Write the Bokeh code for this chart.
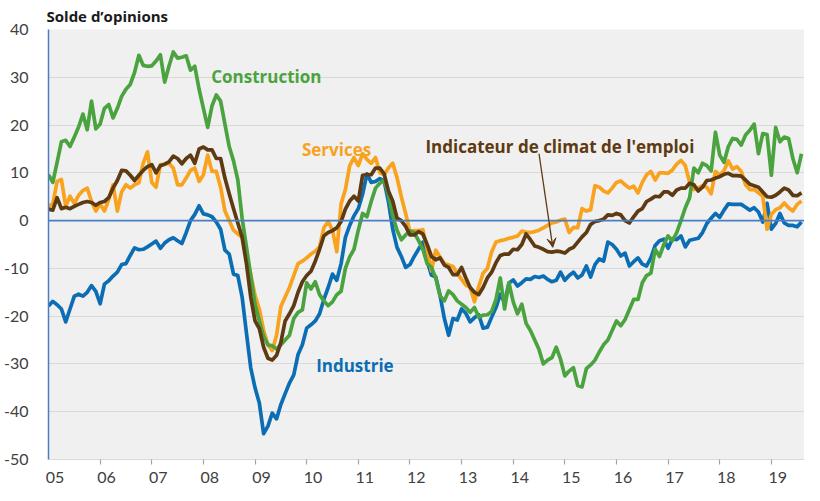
from bokeh.plotting import figure
from bokeh.models import Range1d, FixedTicker, Span, Arrow, VeeHead, CustomJSTickFormatter
from bokeh.core.properties import value
from bokeh.embed import file_html
from bokeh.resources import INLINE

# Monthly values, Jan 2005 .. Aug 2019 (solde d'opinions)
year_labels = ["05", "06", "07", "08", "09", "10", "11", "12", "13", "14", "15", "16", "17", "18", "19"]

industrie = [
    -17.9, -16.9, -17.6, -18.5, -21.2, -18.5, -15.8, -15.4, -15.8, -15.0, -13.6, -14.8,
    -17.4, -13.3, -12.6, -11.6, -10.8, -9.2, -9.0, -7.3, -5.7, -6.1, -6.0, -5.5,
    -4.9, -4.3, -5.8, -4.7, -4.0, -3.6, -4.2, -4.8, -2.5, 0.0, 1.3, 3.1,
    1.4, 1.2, 0.8, -0.3, -1.8, -6.2, -7.0, -11.2, -11.5, -16.0, -23.5, -30.8,
    -35.0, -38.2, -44.6, -43.0, -40.3, -41.5, -38.5, -36.2, -34.0, -32.3, -28.0, -26.0,
    -22.5, -21.8, -21.0, -19.5, -16.5, -14.0, -11.2, -12.5, -9.0, -3.5, -1.0, 1.0,
    2.5, 5.5, 9.8, 8.0, 8.2, 8.8, 8.3, 4.0, -1.8, -5.6, -7.5, -9.8,
    -9.2, -7.5, -6.0, -4.5, -8.5, -11.4, -11.8, -15.6, -20.5, -24.0, -20.5, -20.8,
    -18.5, -19.4, -21.2, -20.3, -19.7, -22.5, -22.3, -20.2, -18.2, -15.4, -17.1, -13.1,
    -12.4, -13.7, -13.0, -12.2, -12.3, -11.7, -11.9, -11.6, -12.3, -12.8, -12.5, -10.8,
    -12.5, -11.5, -10.8, -12.0, -11.4, -9.5, -11.8, -9.2, -8.0, -8.5, -4.5, -5.0,
    -6.0, -7.4, -6.8, -9.5, -8.6, -7.8, -9.1, -9.5, -7.8, -5.2, -4.2, -3.9,
    -5.8, -3.8, -4.0, -3.2, -5.5, -4.1, -3.9, -3.7, -2.5, -0.6, 0.5, 1.5,
    0.7, 2.2, 3.5, 3.4, 3.4, 3.4, 2.8, 2.2, 2.7, 1.8, -0.3, 3.6,
    -1.8, -0.6, 1.5, -0.5, -1.0, -1.0, -1.3, -0.3,
]

construction = [
    9.6, 8.0, 12.2, 16.5, 16.8, 15.5, 17.5, 19.6, 22.3, 19.0, 25.0, 19.2,
    20.2, 23.5, 24.3, 21.5, 23.5, 26.0, 27.5, 28.5, 31.0, 34.6, 32.5, 32.3,
    32.4, 33.4, 34.7, 29.0, 32.3, 35.3, 34.0, 34.2, 34.5, 31.5, 32.3, 27.5,
    23.5, 19.5, 24.0, 26.3, 25.0, 20.2, 15.5, 12.5, 8.5, 0.5, -5.5, -11.5,
    -17.5, -21.0, -24.2, -26.0, -26.2, -26.9, -26.0, -25.0, -24.0, -20.5, -19.2, -18.7,
    -13.0, -14.3, -12.8, -15.5, -16.8, -17.8, -17.0, -15.5, -14.8, -10.0, -7.6, -6.0,
    -2.0, 1.5, 0.8, 4.0, 6.8, 7.8, 8.5, 5.5, 1.0, -2.0, -4.0, -3.0,
    -2.2, -2.5, -4.2, -6.0, -9.0, -9.8, -12.0, -15.8, -16.8, -14.7, -15.5, -16.8,
    -17.5, -18.2, -19.2, -18.2, -20.2, -19.8, -19.7, -19.0, -16.5, -12.0, -18.5, -13.0,
    -17.0, -19.5, -17.5, -21.5, -23.0, -25.0, -27.0, -30.0, -29.2, -28.7, -26.5, -29.0,
    -32.5, -31.5, -30.8, -34.5, -34.8, -31.0, -30.2, -29.2, -27.5, -26.0, -25.0, -23.0,
    -21.0, -22.0, -20.7, -18.6, -16.5, -16.5, -13.0, -11.5, -11.0, -6.0, -7.5, -5.0,
    -3.2, -4.2, -2.5, 0.0, 2.7, 4.8, 11.0, 10.0, 12.0, 11.5, 10.4, 18.5,
    13.7, 12.2, 15.5, 17.2, 17.0, 15.8, 17.9, 18.9, 20.2, 14.0, 18.2, 18.0,
    9.5, 19.5, 16.5, 17.5, 17.2, 13.0, 10.0, 14.0,
]

services = [
    3.0, 3.5, 8.2, 8.6, 3.0, 5.1, 3.6, 5.3, 6.3, 6.8, 4.0, 2.0,
    3.4, 2.0, 4.4, 7.5, 2.0, 6.0, 7.5, 6.8, 7.5, 7.9, 12.0, 14.4,
    8.0, 7.0, 11.7, 11.8, 12.0, 11.0, 7.5, 7.5, 8.9, 10.5, 11.0, 8.2,
    9.6, 13.7, 10.3, 10.3, 7.0, 2.0, 0.0, -2.0, -2.8, -3.5, -7.0, -11.3,
    -15.7, -18.5, -23.0, -26.0, -27.2, -24.0, -18.0, -16.0, -14.0, -11.5, -9.0, -8.5,
    -7.8, -7.0, -6.4, -5.5, -1.5, -0.2, -2.0, -6.5, 3.5, 6.5, 11.5, 13.2,
    11.5, 14.0, 12.8, 12.0, 13.2, 10.0, 9.6, 11.0, 12.0, 9.0, 5.0, 1.5,
    -2.3, -2.1, -2.1, -1.9, -6.0, -10.5, -6.2, -7.6, -9.0, -9.3, -9.6, -11.0,
    -12.3, -13.5, -14.0, -17.0, -13.8, -11.0, -10.0, -6.5, -4.5, -4.2, -4.0, -3.7,
    -3.5, -3.2, -2.2, -2.4, -2.5, -2.3, -2.0, -1.5, -1.0, -0.5, -0.3, 0.1,
    0.3, -2.5, -1.4, -1.5, 2.5, 2.0, 2.3, 7.3, 7.0, 6.2, 5.8, 6.8,
    8.0, 8.3, 7.5, 6.8, 7.2, 5.8, 8.0, 9.6, 10.3, 8.5, 10.0, 10.0,
    9.9, 10.6, 11.8, 12.6, 11.5, 8.0, 6.5, 6.8, 7.3, 7.0, 5.6, 10.3,
    9.5, 10.5, 12.5, 10.8, 11.3, 10.3, 7.5, 6.5, 6.5, 5.8, 5.1, -1.8,
    1.3, 2.3, 2.7, 3.7, 2.7, 2.0, 3.4, 4.1,
]

emploi = [
    2.4, 2.2, 4.8, 2.5, 2.8, 2.5, 3.0, 3.4, 3.8, 4.0, 3.8, 3.2,
    3.8, 4.0, 4.8, 6.8, 8.4, 10.5, 10.4, 9.5, 8.4, 9.5, 10.5, 11.3,
    11.7, 10.0, 11.5, 11.8, 12.3, 13.5, 13.0, 11.9, 13.0, 13.7, 12.0, 15.0,
    15.4, 14.8, 14.8, 13.0, 13.0, 8.9, 5.6, 2.5, -0.5, -3.5, -9.0, -16.0,
    -21.0, -22.6, -26.5, -28.8, -29.2, -28.2, -25.5, -21.0, -19.5, -17.8, -15.0, -12.8,
    -11.5, -10.6, -8.5, -6.0, -3.2, -2.5, -2.1, -1.5, -0.2, 2.4, 4.1, 5.1,
    4.1, 9.5, 9.6, 9.6, 11.0, 11.0, 9.8, 6.2, 4.1, 0.5, 0.0, -1.2,
    -3.0, -3.0, -2.3, -2.8, -5.0, -7.5, -8.2, -7.8, -9.3, -9.8, -11.3, -11.3,
    -9.8, -12.0, -14.0, -15.0, -15.5, -14.0, -12.0, -10.8, -8.8, -7.3, -7.0, -7.0,
    -6.0, -6.1, -5.0, -2.8, -4.0, -5.3, -5.6, -6.0, -6.5, -6.6, -6.4, -6.5,
    -6.8, -6.0, -5.6, -4.5, -3.4, -2.5, -0.8, -0.2, 0.0, 0.3, 1.2, 1.1,
    1.5, 1.2, 0.0, -0.5, 0.8, 2.0, 2.5, 4.0, 4.5, 5.1, 5.0, 6.0,
    6.0, 5.3, 6.4, 6.8, 6.8, 7.8, 7.5, 6.2, 7.0, 8.4, 8.5, 8.9,
    9.2, 9.7, 9.9, 9.4, 9.4, 9.3, 8.5, 7.6, 7.3, 7.0, 6.0, 5.0,
    4.9, 5.3, 6.0, 6.8, 6.4, 5.3, 5.2, 5.8,
]

months = list(range(len(industrie)))
y_ticks = [-50, -40, -30, -20, -10, 0, 10, 20, 30, 40]

BLUE = "#0b6db3"
GREEN = "#4ba33f"
ORANGE = "#f8a21d"
BROWN = "#5e3a12"
AXIS_BLUE = "#4a7ebf"
TICK_FONT = "Lato"
LABEL_FONT = "Open Sans"

p = figure(width=804, height=485, output_backend="svg", toolbar_location=None,
           x_range=Range1d(0, 175.7), y_range=Range1d(-50, 40),
           min_border_left=38, min_border_right=0, min_border_top=27, min_border_bottom=25)
p.background_fill_color = "#f0f0f0"
p.border_fill_color = "white"
p.outline_line_color = None

p.title.text = "Solde d\u2019opinions"
p.title.align = "left"
p.title.offset = -2
p.title.text_font = LABEL_FONT
p.title.text_font_size = "15px"
p.title.text_font_style = "bold"
p.title.text_color = "#1a1a1a"
p.title.standoff = 7

# x axis: year boundaries as (minor) tick marks, year labels just after them
p.xaxis.ticker = FixedTicker(ticks=[12 * i + 1.5 for i in range(len(year_labels))],
                             minor_ticks=[12 * i for i in range(1, len(year_labels))])
p.xaxis.formatter = CustomJSTickFormatter(args=dict(labels=year_labels),
                                          code="return labels[Math.floor(tick / 12)];")
p.xaxis.major_tick_line_color = None
p.xaxis.minor_tick_line_color = "#a6a6a6"
p.xaxis.minor_tick_line_width = 1.2
p.xaxis.minor_tick_out = 5
p.xaxis.minor_tick_in = 0
p.xaxis.axis_line_color = "#d9d9d9"
p.xaxis.major_label_standoff = 6
p.xaxis.major_label_text_font = TICK_FONT
p.xaxis.major_label_text_font_size = "16px"
p.xaxis.major_label_text_color = "#404040"

p.yaxis.ticker = FixedTicker(ticks=y_ticks)
p.yaxis.formatter = CustomJSTickFormatter(code="return String(tick);")
p.yaxis.major_tick_line_color = None
p.yaxis.minor_tick_line_color = None
p.yaxis.axis_line_color = AXIS_BLUE
p.yaxis.axis_line_width = 1.5
p.yaxis.major_label_standoff = 14
p.yaxis.major_label_text_font = TICK_FONT
p.yaxis.major_label_text_font_size = "16px"
p.yaxis.major_label_text_color = "#404040"

p.xgrid.grid_line_color = None
p.ygrid.ticker = FixedTicker(ticks=y_ticks)
p.ygrid.grid_line_color = "#d9d9d9"
p.ygrid.grid_line_width = 1

p.add_layout(Span(location=0, dimension="width", line_color=AXIS_BLUE, line_width=1.6))

for series, color in [(industrie, BLUE), (services, ORANGE), (construction, GREEN), (emploi, BROWN)]:
    p.line(months, series, line_color=color, line_width=3.7, line_join="round")

label_style = dict(text_font=value(LABEL_FONT), text_font_style="bold", text_font_size="17px",
                   text_baseline="alphabetic", text_align="left")
p.text(x=[37.8], y=[30.1], text=["Construction"], text_color=GREEN, **label_style)
p.text(x=[58.9], y=[14.8], text=["Services"], text_color=ORANGE, **label_style)
p.text(x=[62.2], y=[-30.4], text=["Industrie"], text_color=BLUE, **label_style)
p.text(x=[87.6], y=[15.5], text=["Indicateur de climat de l'emploi"], text_color=BROWN, **label_style)

p.add_layout(Arrow(end=VeeHead(size=9, fill_color=BROWN, line_color=BROWN, line_width=1),
                   x_start=114.0, y_start=14.0, x_end=117.2, y_end=-5.6,
                   line_color=BROWN, line_width=1.3))

open("out.html", "w").write(file_html(p, INLINE))
